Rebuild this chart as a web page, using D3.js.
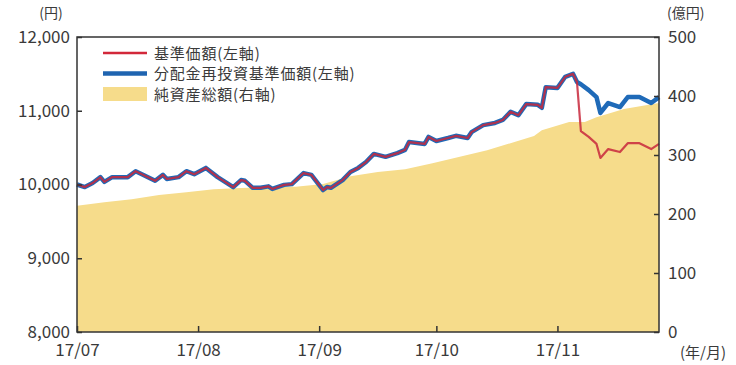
<!DOCTYPE html>
<html>
<head>
    <meta charset="utf-8" />
    <title>基準価額・純資産総額の推移</title>
    <style>
        html, body {
            margin: 0;
            padding: 0;
            background-color: #fff;
        }
        svg text {
            font-family: 'Noto Sans CJK JP', 'Noto Sans', sans-serif;
            fill: #3a3a3a;
        }
    </style>
</head>
<body>
    <div class="canvas"></div>
    <script src="https://d3js.org/d3.v7.min.js"></script>
    <script>
        // 日付（基準価額・分配金再投資基準価額 共通）
        var navDates = [
            "2017-07-01","2017-07-03","2017-07-05","2017-07-07","2017-07-08","2017-07-10","2017-07-14",
            "2017-07-16","2017-07-18","2017-07-21","2017-07-23","2017-07-24","2017-07-27","2017-07-29",
            "2017-07-31","2017-08-03","2017-08-06","2017-08-10","2017-08-12","2017-08-13","2017-08-15",
            "2017-08-17","2017-08-19","2017-08-20","2017-08-23","2017-08-25","2017-08-28","2017-08-30",
            "2017-09-02","2017-09-03","2017-09-04","2017-09-07","2017-09-09","2017-09-11","2017-09-13",
            "2017-09-15","2017-09-18","2017-09-21","2017-09-23","2017-09-24","2017-09-28","2017-09-29",
            "2017-10-01","2017-10-04","2017-10-06","2017-10-09","2017-10-10","2017-10-13","2017-10-16",
            "2017-10-18","2017-10-20","2017-10-22","2017-10-24","2017-10-27","2017-10-28","2017-10-29",
            "2017-11-01","2017-11-03","2017-11-05","2017-11-06","2017-11-07","2017-11-09","2017-11-11",
            "2017-11-12","2017-11-14","2017-11-17","2017-11-19","2017-11-22","2017-11-25","2017-11-27"
        ];
        // 基準価額（左軸, 円）
        var basePrice = [
            10000, 9965,10020,10100,10035,10100,10100,
            10180,10130,10050,10130,10075,10100,10180,
            10140,10225,10100, 9965,10060,10050, 9955,
             9955, 9975, 9940, 9995,10005,10155,10130,
             9925, 9965, 9955,10060,10170,10225,10305,
            10415,10375,10425,10470,10575,10550,10645,
            10590,10630,10660,10630,10710,10805,10835,
            10875,10985,10940,11090,11080,11040,11320,
            11310,11460,11500,11390,10725,10645,10550,
            10360,10480,10440,10560,10560,10480,10550
        ];
        // 分配金再投資基準価額（左軸, 円）
        var reinvestPrice = [
            10000, 9965,10020,10100,10035,10100,10100,
            10180,10130,10050,10130,10075,10100,10180,
            10140,10225,10100, 9965,10060,10050, 9955,
             9955, 9975, 9940, 9995,10005,10155,10130,
             9925, 9965, 9955,10060,10170,10225,10305,
            10415,10375,10425,10470,10575,10550,10645,
            10590,10630,10660,10630,10710,10805,10835,
            10875,10985,10940,11090,11080,11040,11320,
            11310,11460,11500,11390,11360,11280,11185,
            10970,11105,11050,11185,11185,11105,11185
        ];
        // 純資産総額（右軸, 億円）
        var assetDates = [
            "2017-07-01","2017-07-08","2017-07-15","2017-07-22","2017-07-29","2017-08-05","2017-08-12",
            "2017-08-19","2017-08-26","2017-09-02","2017-09-09","2017-09-16","2017-09-23","2017-09-30",
            "2017-10-07","2017-10-14","2017-10-21","2017-10-26","2017-10-28","2017-11-04","2017-11-08",
            "2017-11-11","2017-11-18","2017-11-27"
        ];
        var assetValues = [
            214, 220, 225, 232, 237, 242, 244,
            246, 246, 251, 264, 271, 276, 286,
            297, 308, 322, 332, 342, 356, 356,
            364, 378, 388
        ];

        var monthTicks = ["2017-07-01","2017-08-01","2017-09-01","2017-10-01","2017-11-01"];
        var monthLabels = ["17/07","17/08","17/09","17/10","17/11"];
        var leftTicks = [8000, 9000, 10000, 11000, 12000];
        var rightTicks = [0, 100, 200, 300, 400, 500];
        var xStart = "2017-07-01", xEnd = "2017-11-27";

        var legendItems = [
            {label: "基準価額(左軸)", type: "line", color: "#d2283a"},
            {label: "分配金再投資基準価額(左軸)", type: "line", color: "#1f64b0"},
            {label: "純資産総額(右軸)", type: "rect", color: "#f6dc8b"}
        ];

        var width = 736, height = 365;
        var plotL = 77, plotR = 659, plotT = 37, plotB = 332;
        var parse = d3.timeParse("%Y-%m-%d");

        var x = d3.scaleTime()
            .domain([parse(xStart), parse(xEnd)])
            .range([plotL, plotR]);
        var yL = d3.scaleLinear().domain([8000, 12000]).range([plotB, plotT]);
        var yR = d3.scaleLinear().domain([0, 500]).range([plotB, plotT]);

        var svg = d3.select(".canvas")
            .append("svg")
            .attr("width", width)
            .attr("height", height);

        // 純資産総額 area
        var area = d3.area()
            .x(function(d, i){ return x(parse(assetDates[i])); })
            .y0(plotB)
            .y1(function(d){ return yR(d); });
        svg.append("path")
            .datum(assetValues)
            .attr("d", area)
            .attr("fill", "#f6dc8b");

        var line = d3.line()
            .x(function(d, i){ return x(parse(navDates[i])); })
            .y(function(d){ return yL(d); });

        svg.append("path")
            .datum(reinvestPrice)
            .attr("d", line)
            .attr("fill", "none")
            .attr("stroke", "#1f6ab8")
            .attr("stroke-width", 4.5)
            .attr("stroke-linejoin", "round");

        // red over blue: where they overlap it reads dark purple like the print
        svg.append("path")
            .datum(basePrice)
            .attr("d", line)
            .attr("fill", "none")
            .attr("stroke", "#c8283c")
            .attr("stroke-width", 2.2)
            .attr("stroke-opacity", 0.85)
            .attr("stroke-linejoin", "round");

        // frame
        svg.append("rect")
            .attr("x", plotL).attr("y", plotT)
            .attr("width", plotR - plotL).attr("height", plotB - plotT)
            .attr("fill", "none")
            .attr("stroke", "#333")
            .attr("stroke-width", 1.5);

        // axes
        var axL = svg.append("g")
            .attr("transform", "translate(" + plotL + ",0)")
            .call(d3.axisLeft(yL).tickValues(leftTicks).tickFormat(d3.format(","))
                .tickSizeInner(-5).tickSizeOuter(0).tickPadding(7));
        var axR = svg.append("g")
            .attr("transform", "translate(" + plotR + ",0)")
            .call(d3.axisRight(yR).tickValues(rightTicks)
                .tickSizeInner(-5).tickSizeOuter(0).tickPadding(9));
        var axB = svg.append("g")
            .attr("transform", "translate(0," + plotB + ")")
            .call(d3.axisBottom(x).tickValues(monthTicks.map(parse))
                .tickFormat(function(d, i){ return monthLabels[i]; })
                .tickSizeInner(-6).tickSizeOuter(0).tickPadding(12));

        [axL, axR, axB].forEach(function(g){
            g.select(".domain").remove();
            g.selectAll(".tick line").attr("stroke", "#333").attr("stroke-width", 1.5);
            g.selectAll(".tick text").style("font-size", "17px").attr("fill", "#3a3a3a");
        });

        // unit labels
        svg.append("text").attr("x", 51).attr("y", 18).attr("text-anchor", "middle")
            .style("font-size", "14px").text("(円)");
        svg.append("text").attr("x", 667).attr("y", 18)
            .style("font-size", "14px").text("(億円)");
        svg.append("text").attr("x", 680).attr("y", 358)
            .style("font-size", "15px").text("(年/月)");

        // legend
        var lg = svg.append("g").attr("transform", "translate(103,53)");
        legendItems.forEach(function(d, i){
            var row = lg.append("g").attr("transform", "translate(0," + (i * 20.5) + ")");
            if (d.type == "line") {
                row.append("line")
                    .attr("x1", 0).attr("x2", 44).attr("y1", 0).attr("y2", 0)
                    .attr("stroke", d.color).attr("stroke-width", i == 1 ? 4.5 : 2.5);
            } else {
                row.append("rect")
                    .attr("x", 0).attr("y", -7).attr("width", 44).attr("height", 14)
                    .attr("fill", d.color);
            }
            row.append("text")
                .attr("x", 51).attr("y", 5.5)
                .style("font-size", "15px")
                .style("letter-spacing", "0.8px")
                .text(d.label);
        });
    </script>
</body>
</html>
